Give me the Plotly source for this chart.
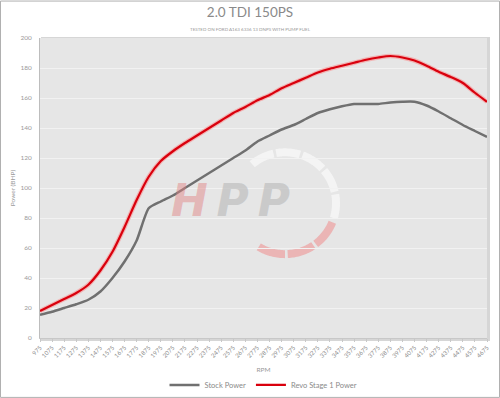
import numpy as np
import plotly.graph_objects as go

rpm = [str(v) for v in range(975, 4676, 100)]
stock = [15.5, 17.5, 20, 22.5, 25.5, 31, 40, 51, 65, 86.5, 91, 95, 100, 105, 110, 115,
         120, 125, 131, 135, 139, 142, 146, 150, 152.5, 154.5, 156, 156, 156, 157,
         157.5, 157.5, 155, 151, 146.5, 142, 138, 134]
revo = [18, 22, 26, 30, 35.5, 45, 57.5, 74, 92, 107.5, 118, 124.5, 130, 135, 140, 145,
        150, 154, 158.5, 162, 166.5, 170, 173.5, 177, 179.5, 181.5, 183.5, 185.5, 187,
        188, 187, 185, 181.5, 177.5, 174, 170, 163.5, 157.5]
yticks = list(range(0, 201, 20))

W, H = 500, 398
L, R, T, B = 40, 13, 37.5, 60
PW, PH = W - L - R, H - T - B


def px(x):
    return (x - L) / PW


def py(y):
    return (H - B - y) / PH


FONT = "Lato"
fig = go.Figure()

fig.add_trace(go.Scatter(x=rpm, y=revo, mode="lines",
                         line=dict(color="rgba(255,120,120,0.45)", width=4.5, shape="spline", smoothing=0.7),
                         hoverinfo="skip", showlegend=False))
fig.add_trace(go.Scatter(x=rpm, y=stock, mode="lines", name="Stock Power",
                         line=dict(color="#707070", width=2.5, shape="spline", smoothing=0.6)))
fig.add_trace(go.Scatter(x=rpm, y=revo, mode="lines", name="Revo Stage 1 Power",
                         line=dict(color="#d9000d", width=2.2, shape="spline", smoothing=0.7)))

shapes = []
shapes.append(dict(type="rect", xref="paper", yref="paper", x0=px(0.5), x1=px(W - 0.5),
                   y0=py(H - 0.5), y1=py(0.5), line=dict(color="#b0b0b0", width=1), layer="below"))
shapes.append(dict(type="rect", xref="paper", yref="paper", x0=px(L + 1), x1=px(L + PW + 3),
                   y0=py(H - B + 3), y1=py(T - 1), line=dict(width=0), fillcolor="#d6d6d6", layer="below"))
shapes.append(dict(type="rect", xref="paper", yref="paper", x0=0, x1=1, y0=0, y1=1,
                   line=dict(width=0), fillcolor="#e6e6e6", layer="below"))

cx, cy, r1, r2 = 285, 203, 47, 55


def seg(a0, a1, color):
    a = np.linspace(np.radians(a0), np.radians(a1), 20)
    ox, oy = cx + r2 * np.cos(a), cy - r2 * np.sin(a)
    ix, iy = cx + r1 * np.cos(a[::-1]), cy - r1 * np.sin(a[::-1])
    pts = list(zip(np.concatenate([ox, ix]), np.concatenate([oy, iy])))
    path = "M " + " L ".join(f"{px(x):.5f},{py(y):.5f}" for x, y in pts) + " Z"
    return dict(type="path", xref="paper", yref="paper", path=path, fillcolor=color,
                line=dict(width=0), layer="below")


for a0 in [130, 100, 70, 40, 10]:
    shapes.append(seg(a0, a0 - 27, "rgba(248,248,248,0.75)"))
for a0 in [-22, -56, -90]:
    shapes.append(seg(a0, a0 - 31, "rgba(238,140,140,0.55)"))

annotations = [
    dict(text="<b><i><span style='color:rgba(225,130,130,0.6)'>H</span>\u2009P\u2009P</i></b>", x=px(230), y=py(200),
         xref="paper", yref="paper", showarrow=False,
         font=dict(family="DejaVu Sans", size=44, color="rgba(195,195,195,0.8)")),
    dict(text="TESTED ON FORD A163 6336 13 DNPS WITH PUMP FUEL", x=px(250), y=py(24),
         xref="paper", yref="paper", showarrow=False,
         font=dict(family=FONT, size=4.5, color="#9a9a9a")),
]

fig.update_layout(
    width=W, height=H,
    margin=dict(l=L, r=R, t=T, b=B, autoexpand=False),
    paper_bgcolor="white", plot_bgcolor="rgba(0,0,0,0)",
    title=dict(text="2.0 TDI 150PS", x=0.5, xanchor="center", y=1 - 12.5 / H, yanchor="middle",
               font=dict(family=FONT, size=13.5, color="#8a8a8a")),
    font=dict(family=FONT, color="#9a9a9a"),
    xaxis=dict(type="category", range=[0, len(rpm) - 1], tickangle=-45, tickfont=dict(size=6, color="#8a8a8a"),
               showgrid=False, showline=True, linecolor="#c8c8c8", linewidth=1, ticks="outside",
               ticklen=3, tickcolor="#c8c8c8", automargin=False,
               title=dict(text="RPM", font=dict(size=6.5, color="#9a9a9a"), standoff=9)),
    yaxis=dict(range=[0, 200], tickvals=yticks, tickfont=dict(size=6.5, color="#9a9a9a"),
               showgrid=True, gridcolor="#f2f2f2", gridwidth=1, zeroline=False, automargin=False,
               showline=True, linecolor="#bdbdbd", linewidth=1, ticks="", ticklabelstandoff=6,
               title=dict(text="Power (BHP)", font=dict(size=6.5, color="#9a9a9a"), standoff=4)),
    legend=dict(orientation="h", x=0.5, xanchor="center", y=py(385), yanchor="middle",
                font=dict(size=7.5, color="#8a8a8a"), itemwidth=30, bgcolor="rgba(0,0,0,0)"),
    shapes=shapes, annotations=annotations,
    showlegend=True,
)

fig.write_html("out.html", config={"displayModeBar": False},
               post_script="document.body.style.margin='0px';")
